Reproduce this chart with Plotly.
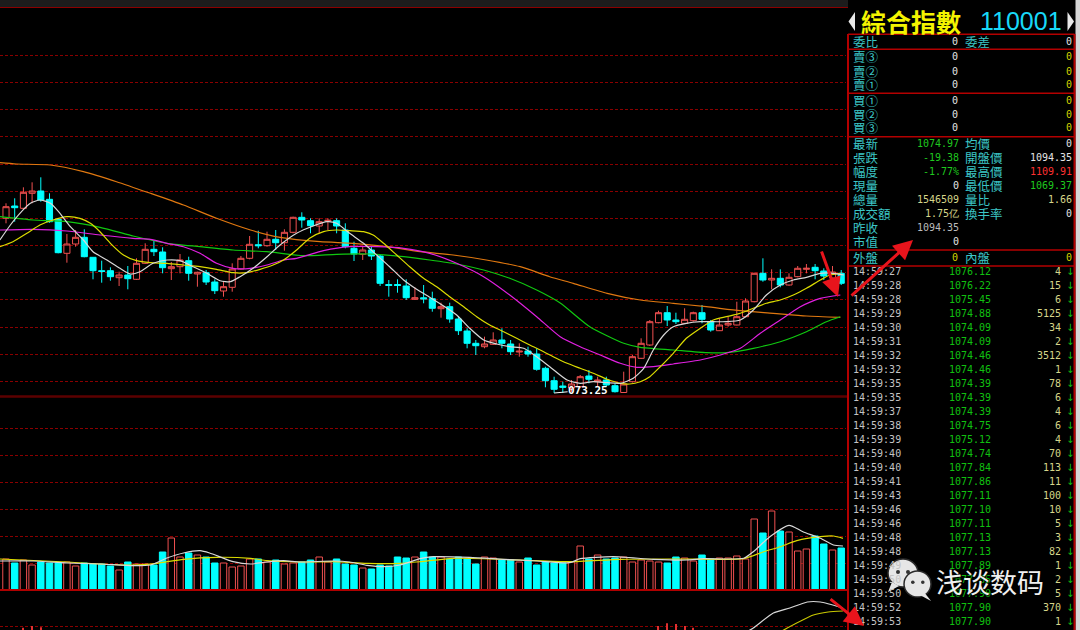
import plotly.graph_objects as go

# ---------------- candle data (index = bar number) ----------------
opens = [1090.72, 1091.95, 1091.72, 1093.22, 1093.45, 1092.62, 1090.62, 1087.22, 1088.15, 1088.82,
         1086.82, 1085.48, 1085.48, 1084.78, 1085.05, 1084.62, 1086.22, 1087.62, 1087.35, 1085.68,
         1085.88, 1086.48, 1085.15, 1085.28, 1084.35, 1083.45, 1083.82, 1085.65, 1086.72, 1088.08,
         1087.98, 1088.62, 1088.28, 1089.32, 1090.82, 1090.48, 1089.95, 1090.45, 1090.48, 1089.55,
         1087.72, 1087.12, 1087.55, 1086.95, 1084.10, 1084.10, 1083.95, 1082.62, 1082.77, 1082.68,
         1081.68, 1081.88, 1080.65, 1079.45, 1078.22, 1077.88, 1078.12, 1078.55, 1078.15, 1077.35,
         1077.45, 1077.15, 1075.72, 1074.48, 1073.95, 1073.75, 1073.88, 1074.95, 1074.38, 1074.55,
         1073.98, 1073.30, 1074.38, 1076.72, 1078.05, 1080.28, 1081.28, 1080.55, 1080.22, 1080.48,
         1081.28, 1080.38, 1079.48, 1080.05, 1080.05, 1080.88, 1082.38, 1085.22, 1084.55, 1084.72,
         1084.05, 1084.88, 1085.62, 1085.82, 1085.45, 1084.75, 1085.22]
closes = [1091.88, 1091.78, 1093.32, 1093.45, 1092.55, 1090.38, 1087.28, 1088.15, 1088.82, 1086.88,
          1085.48, 1085.40, 1084.88, 1085.05, 1084.68, 1086.22, 1087.62, 1087.38, 1085.78, 1085.88,
          1086.55, 1085.22, 1085.32, 1084.35, 1083.48, 1083.88, 1085.65, 1086.72, 1088.12, 1087.98,
          1088.62, 1088.28, 1089.32, 1090.82, 1090.55, 1089.98, 1090.38, 1090.52, 1089.95, 1087.88,
          1087.15, 1087.55, 1086.95, 1084.22, 1084.00, 1084.00, 1082.78, 1082.78, 1082.67, 1081.72,
          1081.88, 1080.65, 1079.48, 1078.22, 1077.98, 1078.15, 1078.55, 1078.22, 1077.38, 1077.43,
          1077.15, 1075.62, 1074.48, 1073.62, 1073.82, 1074.15, 1074.88, 1074.62, 1074.55, 1074.05,
          1073.38, 1074.15, 1076.88, 1078.22, 1080.38, 1081.28, 1080.55, 1080.38, 1080.62, 1081.28,
          1080.62, 1079.55, 1080.05, 1080.22, 1080.88, 1082.45, 1085.22, 1084.55, 1084.72, 1084.05,
          1084.82, 1085.72, 1085.72, 1085.48, 1084.95, 1085.35, 1084.22]
highs = [1092.22, 1092.72, 1093.82, 1094.32, 1094.82, 1093.22, 1090.72, 1089.15, 1089.55, 1089.62,
         1086.85, 1086.48, 1085.82, 1085.38, 1085.95, 1086.72, 1088.22, 1088.55, 1087.82, 1086.35,
         1087.15, 1086.88, 1085.38, 1085.55, 1084.62, 1084.38, 1086.22, 1086.95, 1088.95, 1089.48,
         1089.38, 1089.55, 1089.62, 1090.88, 1091.32, 1090.72, 1090.72, 1090.72, 1090.72, 1090.22,
         1088.38, 1087.88, 1087.88, 1087.05, 1084.55, 1084.62, 1084.62, 1083.82, 1084.05, 1083.38,
         1082.28, 1082.28, 1080.95, 1079.72, 1078.55, 1078.88, 1079.32, 1079.72, 1078.55, 1078.22,
         1077.88, 1077.72, 1075.88, 1074.88, 1074.38, 1074.55, 1075.05, 1075.55, 1074.88, 1074.88,
         1074.22, 1075.38, 1077.05, 1078.72, 1080.55, 1081.48, 1081.95, 1081.28, 1081.72, 1081.38,
         1082.05, 1080.55, 1080.72, 1080.88, 1082.38, 1082.72, 1085.28, 1086.72, 1085.62, 1085.62,
         1085.22, 1085.95, 1086.15, 1086.15, 1085.72, 1085.95, 1085.55]
lows = [1090.22, 1090.38, 1091.55, 1092.22, 1092.38, 1090.28, 1087.22, 1086.28, 1087.88, 1086.82,
        1084.62, 1084.28, 1084.48, 1083.95, 1083.62, 1084.55, 1086.15, 1086.95, 1085.22, 1084.55,
        1085.22, 1084.48, 1083.88, 1084.05, 1083.15, 1082.88, 1083.38, 1085.60, 1086.62, 1087.72,
        1087.88, 1087.55, 1087.48, 1089.22, 1089.78, 1089.22, 1089.22, 1089.55, 1089.22, 1087.72,
        1086.45, 1086.55, 1086.55, 1083.95, 1082.88, 1083.28, 1082.55, 1082.55, 1082.22, 1081.38,
        1080.78, 1080.28, 1079.05, 1077.72, 1077.05, 1077.72, 1078.05, 1077.72, 1077.05, 1076.88,
        1076.88, 1075.48, 1073.82, 1073.25, 1073.28, 1073.35, 1073.75, 1074.22, 1073.88, 1073.88,
        1073.30, 1073.28, 1074.30, 1076.65, 1077.95, 1080.22, 1079.95, 1080.15, 1080.15, 1080.38,
        1080.22, 1079.38, 1079.45, 1079.88, 1080.02, 1080.82, 1082.32, 1084.38, 1083.62, 1083.82,
        1083.98, 1084.82, 1085.22, 1084.62, 1084.55, 1084.35, 1084.05]
volumes = [31, 27, 30, 25, 28, 27, 27, 28, 24, 27,
           26, 26, 24, 20, 28, 26, 26, 25, 38, 52,
           33, 37, 35, 33, 27, 27, 23, 24, 31, 31,
           28, 30, 26, 27, 28, 30, 33, 28, 31, 26,
           25, 22, 21, 25, 24, 33, 32, 33, 38, 33,
           33, 31, 33, 31, 26, 33, 32, 30, 30, 28,
           32, 25, 28, 27, 27, 28, 44, 31, 35, 31,
           32, 33, 28, 30, 29, 28, 27, 33, 32, 29,
           35, 31, 32, 32, 34, 31, 71, 57, 79, 59,
           58, 39, 41, 54, 46, 40, 42]

# ---------------- moving averages ----------------
ma5_x = [-0.7, 0.5, 1.6, 2.8, 3.9, 5.1, 6.2, 7.4, 8.9, 10.0, 11.6, 13.1, 14.3, 15.4, 16.9, 18.5, 20.0,
         21.5, 23.1, 24.6, 25.8, 26.9, 28.4, 30.0, 31.5, 33.4, 35.3, 36.9, 38.0, 39.5, 41.1, 42.6,
         44.1, 45.7, 47.2, 48.7, 50.3, 51.8, 53.3, 54.9, 56.4, 57.9, 59.5, 61.0, 62.5, 64.5, 66.0,
         67.5, 69.1, 70.6, 72.1, 73.3, 74.4, 75.6, 76.7, 78.2, 79.8, 81.3, 82.8, 84.4, 85.9, 87.4,
         89.0, 90.5, 92.0, 93.6, 95.1, 96.3]
ma5_v = [1088.55, 1090.05, 1091.22, 1092.22, 1092.55, 1092.22, 1091.22, 1089.88, 1088.55, 1087.38,
         1086.55, 1085.72, 1085.15, 1085.38, 1086.22, 1086.55, 1086.48, 1085.88, 1085.22, 1084.48,
         1084.38, 1084.88, 1085.72, 1086.88, 1088.05, 1089.22, 1089.95, 1090.38, 1090.22, 1089.22,
         1088.22, 1087.05, 1085.88, 1084.55, 1083.62, 1082.82, 1081.95, 1081.05, 1079.72, 1078.55,
         1078.15, 1077.88, 1077.72, 1076.88, 1075.88, 1074.55, 1074.22, 1074.38, 1074.28, 1074.22,
         1074.72, 1075.72, 1077.55, 1079.05, 1079.88, 1080.22, 1080.38, 1080.38, 1080.38, 1080.55,
         1081.55, 1083.05, 1084.05, 1084.55, 1084.82, 1085.22, 1085.22, 1085.05]
ma10_x = [-0.7, 0.8, 2.4, 3.9, 5.4, 7.0, 8.5, 9.7, 10.8, 12.0, 13.5, 15.0, 16.6, 18.5, 20.4, 22.3,
          24.2, 26.1, 27.7, 29.2, 30.7, 31.9, 33.4, 34.9, 36.5, 38.0, 39.5, 41.1, 42.2, 43.4, 44.9,
          46.4, 48.0, 49.5, 51.0, 52.6, 54.1, 55.6, 57.2, 58.7, 60.2, 61.8, 62.9, 64.5, 66.0, 67.5,
          69.1, 70.6, 71.7, 72.9, 74.0, 75.2, 76.7, 78.2, 79.8, 81.3, 82.8, 84.4, 85.9, 87.4, 89.0,
          90.5, 92.0, 93.6, 94.7, 95.9]
ma10_v = [1087.88, 1088.38, 1089.22, 1090.05, 1090.55, 1090.88, 1090.72, 1090.22, 1089.38, 1088.22,
          1087.05, 1086.48, 1086.28, 1086.22, 1086.05, 1085.88, 1085.62, 1085.28, 1085.28, 1085.62,
          1086.05, 1086.55, 1087.55, 1088.72, 1089.38, 1089.55, 1089.48, 1089.38, 1089.05, 1088.22,
          1087.05, 1085.88, 1084.72, 1083.88, 1082.88, 1081.88, 1080.88, 1080.05, 1079.38, 1078.72,
          1078.05, 1077.38, 1076.88, 1076.22, 1075.72, 1075.22, 1074.62, 1074.22, 1074.15, 1074.38,
          1074.88, 1075.88, 1077.22, 1078.72, 1079.72, 1080.55, 1080.88, 1081.22, 1081.72, 1082.22,
          1082.55, 1083.05, 1083.72, 1084.55, 1085.05, 1085.22]
ma20_x = [-0.7, 3.1, 7.0, 10.8, 14.6, 16.6, 18.5, 20.4, 22.3, 24.2, 26.1, 28.1, 30.0, 31.9, 33.4,
          36.5, 39.5, 42.6, 45.7, 48.7, 51.8, 54.9, 57.9, 61.0, 63.7, 66.0, 68.3, 70.6, 72.5, 74.4,
          76.7, 79.8, 82.1, 84.4, 86.7, 89.0, 91.3, 93.6, 95.9]
ma20_v = [1089.55, 1089.62, 1089.45, 1089.05, 1088.72, 1088.62, 1088.22, 1087.88, 1087.22, 1086.22,
          1085.72, 1085.72, 1086.05, 1086.55, 1086.72, 1087.48, 1087.88, 1087.88, 1087.72, 1087.22,
          1086.22, 1084.88, 1083.05, 1080.88, 1078.88, 1077.88, 1077.05, 1076.22, 1075.82, 1075.88,
          1076.15, 1076.55, 1077.05, 1077.72, 1079.22, 1080.55, 1081.88, 1082.72, 1083.05]
ma30_x = [-0.7, 3.1, 7.0, 10.8, 14.6, 16.6, 18.5, 22.3, 26.1, 30.0, 34.2, 38.0, 41.8, 45.7, 48.7,
          51.8, 54.9, 57.9, 61.0, 63.7, 67.1, 71.0, 72.9, 76.7, 80.5, 82.8, 85.9, 89.0, 92.0, 94.3, 95.9]
ma30_v = [1090.88, 1090.55, 1090.38, 1089.82, 1088.95, 1088.55, 1088.22, 1087.88, 1087.55, 1087.38,
          1086.98, 1087.12, 1087.15, 1086.88, 1086.55, 1086.15, 1085.55, 1084.72, 1083.55, 1082.25,
          1079.88, 1078.22, 1077.82, 1077.55, 1077.28, 1077.28, 1077.72, 1078.38, 1079.38, 1080.38, 1080.88]
ma60_x = [-0.7, 1.2, 5.1, 8.9, 12.7, 16.6, 20.4, 24.2, 28.1, 31.5, 36.1, 39.9, 43.8, 47.6, 51.4,
          55.2, 59.1, 62.5, 65.2, 69.1, 72.9, 76.7, 80.5, 84.4, 88.2, 92.0, 95.9]
ma60_v = [1096.28, 1096.15, 1096.05, 1095.38, 1094.38, 1093.22, 1092.05, 1090.72, 1089.55, 1088.82,
          1088.38, 1088.22, 1087.88, 1087.38, 1087.05, 1086.55, 1085.88, 1084.88, 1084.22, 1083.22,
          1082.55, 1082.22, 1081.88, 1081.48, 1081.22, 1080.95, 1080.82]

vma5_x = [-0.7, 3.1, 7.0, 10.8, 14.6, 16.6, 18.5, 20.4, 22.3, 23.4, 26.1, 28.1, 30.0, 31.9, 33.8,
          37.6, 39.5, 41.5, 43.4, 45.3, 47.6, 49.1, 53.3, 57.2, 61.0, 64.8, 66.0, 69.8, 74.4, 78.2,
          80.2, 84.8, 85.9, 87.8, 90.0, 91.6, 93.6, 95.1, 96.2]
vma5_v = [29, 29, 27, 26, 24.3, 25, 32, 37, 39.3, 37, 28.3, 26, 28, 29.3, 28, 29, 28, 24.7, 23.3, 25,
          31.3, 33.3, 32.7, 30.7, 29, 27.3, 31.3, 33.3, 30.7, 30, 31.3, 31.7, 38.3, 53.3, 64.7, 58.3,
          51.7, 45, 44]
vma10_x = [-0.7, 7.0, 10.8, 14.6, 17.3, 20.4, 24.2, 28.1, 30.0, 33.8, 37.6, 41.5, 45.3, 47.6, 51.4,
           59.1, 64.8, 70.6, 76.3, 82.1, 84.8, 87.1, 89.0, 90.9, 93.6, 95.1, 96.2]
vma10_v = [31, 28, 26, 25, 26.7, 30.7, 32.7, 31.7, 29.3, 28, 28.3, 26.7, 26.7, 28.3, 31.7, 30, 28.3,
           30.7, 31, 30.7, 31.3, 38.3, 43.3, 49.3, 53.3, 54, 51.7]

dif_x = [84.9, 85.9, 88.2, 90.1, 92.1, 93.6, 96.2]
dif_v = [0.7, 1.2, 2.7, 3.2, 3.8, 3.8, 3.2]
dea_x = [88.4, 89.8, 92.8, 94.5, 96.2]
dea_v = [0.5, 1.2, 2.5, 2.8, 2.9]
macd_x = [2, 3, 4, 75, 76, 77, 78, 79]
macd_v = [1.23, 1.4, 1.27, 1.4, 1.67, 1.6, 1.4, 1.23]

price_grid = [1107.02, 1104.32, 1101.62, 1098.92, 1096.12, 1093.42, 1090.72, 1088.02,
              1085.32, 1082.62, 1079.85, 1077.15, 1074.42]
vol_grid = [26.7, 53.7, 80.7, 107.7, 134.7, 161.7]
macd_grid = [1.4]
low_label = "073.25"
low_index = 63

# ---------------- quote panel text ----------------
title_name = "綜合指數"
title_code = "110001"
order_labels = ["賣③", "賣②", "賣①", "買①", "買②", "買③"]
order_vals = ["0", "0", "0", "0", "0", "0"]
order_vals2 = ["0", "0", "0", "0", "0", "0"]
left_labels = ["最新", "張跌", "幅度", "現量", "總量", "成交額", "昨收", "市值"]
left_values = ["1074.97", "-19.38", "-1.77%", "0", "1546509", "1.75亿", "1094.35", "0"]
right_labels = ["均價", "開盤價", "最高價", "最低價", "量比", "換手率", "", ""]
right_values = ["0", "1094.35", "1109.91", "1069.37", "1.66", "0", "", ""]
tick_times = ["14:59:27", "14:59:28", "14:59:28", "14:59:29", "14:59:30", "14:59:31", "14:59:32",
              "14:59:32", "14:59:35", "14:59:35", "14:59:37", "14:59:38", "14:59:39", "14:59:40",
              "14:59:40", "14:59:41", "14:59:43", "14:59:46", "14:59:46", "14:59:48", "14:59:48",
              "14:59:49", "14:59:50", "14:59:50", "14:59:52", "14:59:53"]
tick_prices = ["1076.12", "1076.22", "1075.45", "1074.88", "1074.09", "1074.09", "1074.46",
               "1074.46", "1074.39", "1074.39", "1074.39", "1074.75", "1075.12", "1074.74",
               "1077.84", "1077.86", "1077.11", "1077.10", "1077.11", "1077.13", "1077.13",
               "1077.89", "1077.85", "1077.90", "1077.90", "1077.90"]
tick_vols = [4, 15, 6, 5125, 34, 2, 3512, 1, 78, 6, 4, 6, 4, 70, 113, 11, 100, 10, 5, 3, 82, 1, 2, 5, 370, 1]
watermark = "浅谈数码"

# ---------------- styling ----------------
W, H = 1080, 630
RED = "#f05050"
CYAN = "#00ffff"
GRID = "#8a0000"
MONO = "DejaVu Sans Mono"
CJK = "Noto Sans CJK TC"
LABEL = "#3cc6c6"
WHITE = "#e4e4e4"
YEL0 = "#d4d400"
PALE = "#d6d68a"
GREEN_T = "#1fc81f"
PANEL_RED = "#b40000"


def PX(x):
    return x / W


def PY(y):
    return 1 - y / H


idx = list(range(len(opens)))
up = [c > o for o, c in zip(opens, closes)]

fig = go.Figure()
fig.add_trace(go.Candlestick(
    x=idx, open=opens, high=highs, low=lows, close=closes, whiskerwidth=0,
    increasing=dict(line=dict(color=RED, width=1), fillcolor="#000000"),
    decreasing=dict(line=dict(color=CYAN, width=1), fillcolor=CYAN),
    hoverinfo="skip", xaxis="x", yaxis="y"))

for xs, vs, col in [(ma60_x, ma60_v, "#e07810"), (ma30_x, ma30_v, "#10c810"),
                    (ma20_x, ma20_v, "#e020e0"), (ma10_x, ma10_v, "#dcdc00"),
                    (ma5_x, ma5_v, "#d8d8d8")]:
    fig.add_trace(go.Scatter(x=xs, y=vs, mode="lines", hoverinfo="skip", xaxis="x", yaxis="y",
                             line=dict(color=col, width=1.2, shape="spline", smoothing=0.6)))

fig.add_trace(go.Bar(x=idx, y=volumes, width=0.74, xaxis="x", yaxis="y2", hoverinfo="skip",
                     marker=dict(color=["#000000" if u else CYAN for u in up],
                                 line=dict(color=[RED if u else CYAN for u in up], width=1))))
for xs, vs, col in [(vma10_x, vma10_v, "#dcdc00"), (vma5_x, vma5_v, "#d8d8d8")]:
    fig.add_trace(go.Scatter(x=xs, y=vs, mode="lines", hoverinfo="skip", xaxis="x", yaxis="y2",
                             line=dict(color=col, width=1.2, shape="spline", smoothing=0.6)))

fig.add_trace(go.Bar(x=macd_x, y=macd_v, width=0.13, xaxis="x", yaxis="y3", hoverinfo="skip",
                     marker=dict(color="#e03030", line=dict(width=0))))
for xs, vs, col in [(dea_x, dea_v, "#c8c800"), (dif_x, dif_v, "#d8d8d8")]:
    fig.add_trace(go.Scatter(x=xs, y=vs, mode="lines", hoverinfo="skip", xaxis="x", yaxis="y3",
                             line=dict(color=col, width=1.2, shape="spline", smoothing=0.6)))

grid_style = dict(showticklabels=False, gridcolor=GRID, griddash="3px,2px", gridwidth=1,
                  zeroline=False, showline=False, ticks="", fixedrange=True)

# ---------------- shapes ----------------
shapes = []


def hline(y, x0, x1, color, width, dash="solid"):
    shapes.append(dict(type="line", xref="paper", yref="paper", x0=PX(x0), x1=PX(x1),
                       y0=PY(y), y1=PY(y), line=dict(color=color, width=width, dash=dash)))


def vline(x, y0, y1, color, width):
    shapes.append(dict(type="line", xref="paper", yref="paper", x0=PX(x), x1=PX(x),
                       y0=PY(y0), y1=PY(y1), line=dict(color=color, width=width)))


def rect(x0, y0, x1, y1, fill, line=None, lw=0, kind="rect"):
    shapes.append(dict(type=kind, xref="paper", yref="paper", x0=PX(x0), x1=PX(x1),
                       y0=PY(y1), y1=PY(y0), fillcolor=fill,
                       line=dict(color=line or fill, width=lw)))


def poly(points, fill):
    path = "M " + " L ".join(f"{PX(x)},{PY(y)}" for x, y in points) + " Z"
    shapes.append(dict(type="path", xref="paper", yref="paper", path=path,
                       fillcolor=fill, line=dict(color=fill, width=0)))


rect(0, 0, 848, 7, "#1c1c1c")
hline(7.5, 0, 848, "#8a0000", 1)
hline(396.5, 0, 847, "#5c0000", 2.5)
hline(590, 0, 847, "#b00000", 2)
rect(1075.5, 0, 1080, 630, "#d6d6d6")
vline(848, 34, 630, PANEL_RED, 2)
vline(1074.5, 34, 630, PANEL_RED, 2)
for yy in [34.3, 49.3, 93.3, 136.7, 250, 266]:
    hline(yy, 848, 1074.5, PANEL_RED, 1.5)
poly([(855, 12), (855, 31), (848.5, 21.5)], "#e8e8e8")
poly([(1067.5, 12), (1067.5, 31), (1074, 21.5)], "#e8e8e8")

# WeChat style icon of the watermark
rect(888, 559, 918, 587, "#e6e6e6", "#2a2a2a", 1.5, "circle")
poly([(892, 582), (888, 592), (899, 586)], "#e6e6e6")
rect(896, 570, 900, 574, "#333333", None, 0, "circle")
rect(906, 570, 910, 574, "#333333", None, 0, "circle")
rect(904, 571, 931, 597, "#e6e6e6", "#2a2a2a", 1.5, "circle")
poly([(924, 592), (931, 601), (920, 595)], "#e6e6e6")
rect(911, 580.5, 914.6, 584, "#333333", None, 0, "circle")
rect(921, 580.5, 924.6, 584, "#333333", None, 0, "circle")

# ---------------- annotations ----------------
ann = []


def txt(x, y, s, color, size=10, family=MONO, anchor="left"):
    if s == "":
        return
    ann.append(dict(x=PX(x), y=PY(y), xref="paper", yref="paper", text=s, showarrow=False,
                    xanchor=anchor, yanchor="middle", borderpad=0,
                    font=dict(family=family, size=size, color=color)))


txt(860, 21, "<b>" + title_name + "</b>", "#f4f400", 25, CJK)
txt(979, 21, title_code, "#18d8f8", 25, "Liberation Sans")

txt(852, 42, "委比", LABEL, 12.5, CJK)
txt(959, 42, "0", WHITE, anchor="right")
txt(964, 42, "委差", LABEL, 12.5, CJK)
txt(1073, 42, "0", WHITE, anchor="right")
for k, (lab, v1, v2) in enumerate(zip(order_labels, order_vals, order_vals2)):
    yy = [56.7, 71, 85, 100, 114, 128][k]
    txt(852, yy, lab, LABEL, 12.5, CJK)
    txt(959, yy, v1, WHITE, anchor="right")
    txt(1073, yy, v2, YEL0, anchor="right")

left_colors = [GREEN_T, GREEN_T, GREEN_T, WHITE, PALE, PALE, "#bcbcbc", WHITE]
right_colors = [WHITE, WHITE, "#ff3030", GREEN_T, PALE, WHITE, WHITE, WHITE]
for k in range(len(left_labels)):
    yy = 143.3 + 14.05 * k
    txt(852, yy, left_labels[k], LABEL, 12.5, CJK)
    txt(960, yy, left_values[k], left_colors[k], anchor="right")
    txt(964, yy, right_labels[k], LABEL, 12.5, CJK)
    txt(1073, yy, right_values[k], right_colors[k], anchor="right")
txt(852, 257, "外盤", LABEL, 12.5, CJK)
txt(959, 257, "0", YEL0, anchor="right")
txt(964, 257, "內盤", LABEL, 12.5, CJK)
txt(1073, 257, "0", YEL0, anchor="right")

for k in range(len(tick_times)):
    yy = 271.7 + 14 * k
    txt(851.5, yy, tick_times[k], "#c4c4c4")
    txt(992, yy, tick_prices[k], "#10c010", anchor="right")
    txt(1061.5, yy, str(tick_vols[k]), PALE, anchor="right")
    txt(1070, yy, "↓", "#10c010", 10, "DejaVu Sans", anchor="center")

# low marker
ann.append(dict(x=low_index, y=lows[low_index], xref="x", yref="y", text="<b>" + low_label + "</b>",
                showarrow=True, arrowhead=0, arrowwidth=1, arrowcolor="#ffffff", ax=34, ay=-3,
                font=dict(family=MONO, size=11, color="#ffffff"), borderpad=0))

# watermark text
ann.append(dict(x=PX(990), y=PY(581), xref="paper", yref="paper", text=watermark, showarrow=False,
                xanchor="center", yanchor="middle",
                font=dict(family="Noto Sans CJK SC", size=27, color="#f0f0f0",
                          shadow="1px 1px 2px #000000")))

# red pointer arrows
for hx, hy, tx, ty in [(838, 297, 821, 250), (913, 240, 850, 297), (864, 626, 829, 598)]:
    ann.append(dict(x=PX(hx), y=PY(hy), xref="paper", yref="paper", text="", showarrow=True,
                    ax=tx - hx, ay=ty - hy, axref="pixel", ayref="pixel", arrowhead=2,
                    arrowsize=1.3, arrowwidth=3, arrowcolor="#e8141c", standoff=0))

fig.update_layout(
    width=W, height=H, margin=dict(l=0, r=0, t=0, b=0, pad=0),
    paper_bgcolor="#000000", plot_bgcolor="#000000", showlegend=False,
    boxgap=0.3, boxgroupgap=0, barmode="overlay", hovermode=False,
    xaxis=dict(domain=[0, 846 / W], range=[-0.69, 96.55], showgrid=False, showticklabels=False,
               zeroline=False, showline=False, ticks="", rangeslider=dict(visible=False),
               fixedrange=True),
    yaxis=dict(domain=[PY(396), PY(7)], range=[1072.95, 1111.85], tickvals=price_grid, **grid_style),
    yaxis2=dict(domain=[PY(590), PY(398)], range=[0, 192], tickvals=vol_grid, anchor="x", **grid_style),
    yaxis3=dict(domain=[0, PY(591)], range=[1.0, 4.9], tickvals=macd_grid, anchor="x", **grid_style),
    shapes=shapes, annotations=ann,
)

fig.write_html(
    "out.html",
    config={"displayModeBar": False},
    post_script="document.body.style.margin='0px';document.body.style.overflow='hidden';"
                "document.body.style.background='#000';",
)
